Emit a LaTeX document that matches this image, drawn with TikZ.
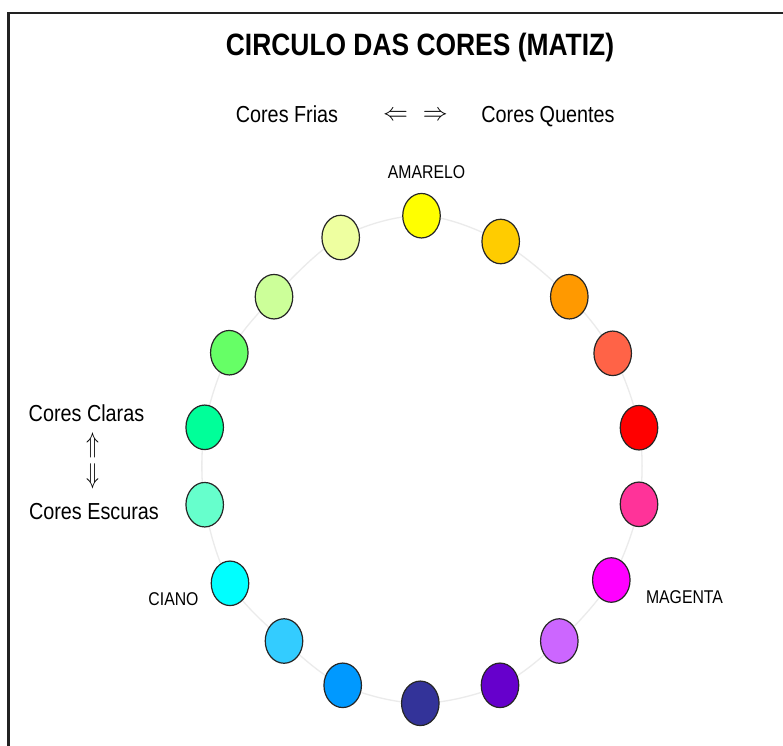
\documentclass[tikz,border=0pt]{standalone}
\usepackage{fontspec}
\setmainfont{Liberation Sans}
\usetikzlibrary{shapes.geometric}
\newcommand{\stretchtxt}[1]{\scalebox{1}[1.17]{#1}}
\definecolor{framecol}{HTML}{222222}
\definecolor{ringcol}{HTML}{EBEBEB}
\tikzset{
  dot/.style={ellipse, draw=black!85, line width=1.2pt, minimum width=37.5pt, minimum height=44.5pt, inner sep=0pt},
  bigtxt/.style={font=\fontsize{19.8}{24}\selectfont, inner sep=0pt},
  smalltxt/.style={font=\fontsize{15.8}{19}\selectfont, inner sep=0pt},
  titletxt/.style={font=\fontsize{26.4}{31}\selectfont\bfseries, inner sep=0pt},
  arrtxt/.style={inner sep=0pt, outer sep=0pt, font=\fontsize{30}{34}\selectfont},
  ring/.style={draw=ringcol, line width=1.3pt},
  framestyle/.style={draw=framecol, line width=2.6pt}
}
\begin{document}
\begin{tikzpicture}[x=1pt,y=-1pt]
\useasboundingbox (0,0) rectangle (783,745);
\fill[white] (0,0) rectangle (783,745);
% frame
\draw[framestyle] (8.7,746) -- (8.7,13) -- (784,13);
% coordinates of the hue dots
\coordinate (c1) at (421.5,215.7);
\coordinate (c2) at (500.7,241.5);
\coordinate (c3) at (569.3,296.7);
\coordinate (c4) at (612.7,353.3);
\coordinate (c5) at (639,427.7);
\coordinate (c6) at (639,504.3);
\coordinate (c7) at (611.3,580);
\coordinate (c8) at (559.3,641);
\coordinate (c9) at (500,685.3);
\coordinate (c10) at (420.3,703.3);
\coordinate (c11) at (342.7,685.3);
\coordinate (c12) at (284,641);
\coordinate (c13) at (230,583.3);
\coordinate (c14) at (204.7,504.7);
\coordinate (c15) at (204.7,427.3);
\coordinate (c16) at (229.3,352.7);
\coordinate (c17) at (274,296.7);
\coordinate (c18) at (340.7,237.5);
% background ring
\draw[ring] plot[smooth cycle, tension=0.55] coordinates {(c1) (c2) (c3) (c4) (c5) (c6) (c7) (c8) (c9) (c10) (c11) (c12) (c13) (c14) (c15) (c16) (c17) (c18)};
% dots
\node[dot, fill={rgb,255:red,255;green,255;blue,0}] (e1) at (c1) {};
\node[dot, fill={rgb,255:red,255;green,204;blue,0}] (e2) at (c2) {};
\node[dot, fill={rgb,255:red,255;green,153;blue,0}] (e3) at (c3) {};
\node[dot, fill={rgb,255:red,255;green,99;blue,71}] (e4) at (c4) {};
\node[dot, fill={rgb,255:red,255;green,0;blue,0}] (e5) at (c5) {};
\node[dot, fill={rgb,255:red,255;green,51;blue,153}] (e6) at (c6) {};
\node[dot, fill={rgb,255:red,255;green,0;blue,255}] (e7) at (c7) {};
\node[dot, fill={rgb,255:red,204;green,102;blue,255}] (e8) at (c8) {};
\node[dot, fill={rgb,255:red,102;green,0;blue,204}] (e9) at (c9) {};
\node[dot, fill={rgb,255:red,51;green,51;blue,153}] (e10) at (c10) {};
\node[dot, fill={rgb,255:red,0;green,153;blue,255}] (e11) at (c11) {};
\node[dot, fill={rgb,255:red,51;green,204;blue,255}] (e12) at (c12) {};
\node[dot, fill={rgb,255:red,0;green,255;blue,255}] (e13) at (c13) {};
\node[dot, fill={rgb,255:red,102;green,255;blue,204}] (e14) at (c14) {};
\node[dot, fill={rgb,255:red,0;green,255;blue,153}] (e15) at (c15) {};
\node[dot, fill={rgb,255:red,102;green,255;blue,102}] (e16) at (c16) {};
\node[dot, fill={rgb,255:red,204;green,255;blue,153}] (e17) at (c17) {};
\node[dot, fill={rgb,255:red,238;green,255;blue,160}] (e18) at (c18) {};
% texts
\node[titletxt] (title) at (420,48) {\stretchtxt{CIRCULO DAS CORES (MATIZ)}};
\node[bigtxt, anchor=base] (frias) at (287,122.3) {\stretchtxt{Cores Frias}};
\node[inner sep=0pt, font=\fontsize{24}{28}\selectfont] (harr) at (415.5,116) {$\Leftarrow$\hspace{15pt}$\Rightarrow$};
\node[bigtxt, anchor=base] (quentes) at (548,122.3) {\stretchtxt{Cores Quentes}};
\node[smalltxt] (amarelo) at (426.5,172) {\stretchtxt{AMARELO}};
\node[smalltxt] (ciano) at (173.5,599) {\stretchtxt{CIANO}};
\node[smalltxt] (magenta) at (684.5,597) {\stretchtxt{MAGENTA}};
\node[bigtxt, anchor=base] (claras) at (86.5,421.3) {\stretchtxt{Cores Claras}};
\node[arrtxt] (uarr) at (93,445) {\scalebox{0.85}[1.15]{$\Uparrow$}};
\node[arrtxt] (darr) at (93,476.5) {\scalebox{0.85}[1.15]{$\Downarrow$}};
\node[bigtxt, anchor=base] (escuras) at (94,519.3) {\stretchtxt{Cores Escuras}};
\end{tikzpicture}
\end{document}
